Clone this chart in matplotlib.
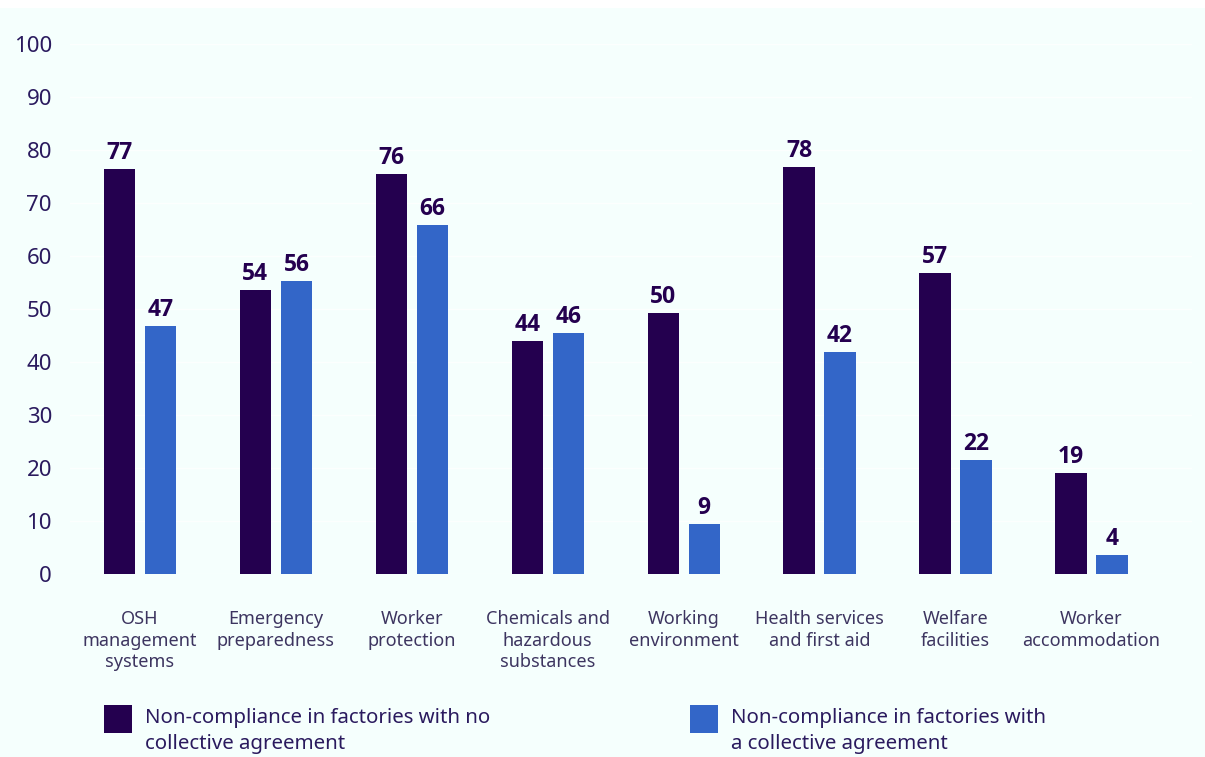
import matplotlib
matplotlib.use("Agg")
import matplotlib.pyplot as plt
from matplotlib.patches import Rectangle
import numpy as np

categories = ["OSH\nmanagement\nsystems", "Emergency\npreparedness", "Worker\nprotection",
              "Chemicals and\nhazardous\nsubstances", "Working\nenvironment",
              "Health services\nand first aid", "Welfare\nfacilities", "Worker\naccommodation"]
# bar heights
no_ca = [76.4, 53.6, 75.5, 44.0, 49.3, 76.8, 56.7, 19.1]
with_ca = [46.7, 55.3, 65.8, 45.5, 9.4, 41.9, 21.5, 3.5]
# value labels as printed on the chart
no_ca_labels = ["77", "54", "76", "44", "50", "78", "57", "19"]
with_ca_labels = ["47", "56", "66", "46", "9", "42", "22", "4"]
series_labels = ["Non-compliance in factories with no\ncollective agreement",
                 "Non-compliance in factories with\na collective agreement"]
yticks = [0, 10, 20, 30, 40, 50, 60, 70, 80, 90, 100]

dark = "#24004f"
blue = "#3366c8"
bg = "#f5fffd"
text_col = "#2a1a5e"
cat_col = "#3d3560"

plt.rcParams['font.family'] = ['Noto Sans', 'DejaVu Sans']

W, H = 1205, 757
fig = plt.figure(figsize=(W/100, H/100), dpi=100)
fig.patch.set_facecolor("white")
fig.add_artist(Rectangle((0, 0), 1, 1 - 8/H, transform=fig.transFigure,
                         facecolor=bg, edgecolor="none", zorder=-10))

left = 70/W
right = 1192/W
bottom = 1 - 574/H
top = 1 - 44/H
ax = fig.add_axes([left, bottom, right-left, top-bottom])
ax.set_facecolor("none")

x = np.arange(len(categories))
bw = 0.23
off = 0.151
ax.bar(x - off, no_ca, bw, color=dark, zorder=3)
ax.bar(x + off, with_ca, bw, color=blue, zorder=3)

lab_font = dict(family=['Open Sans', 'Noto Sans', 'DejaVu Sans'], weight='bold', size=16.5)
for xi, v, t in zip(x - off, no_ca, no_ca_labels):
    ax.annotate(t, (xi, v), xytext=(0, 3), textcoords="offset points",
                ha="center", va="bottom", color=dark, **lab_font)
for xi, v, t in zip(x + off, with_ca, with_ca_labels):
    ax.annotate(t, (xi, v), xytext=(0, 3), textcoords="offset points",
                ha="center", va="bottom", color=dark, **lab_font)

ax.set_ylim(0, 100)
ax.set_xlim(-0.515, 7.74)
ax.set_yticks(yticks)
ax.set_yticklabels([str(t) for t in yticks], fontsize=16, color=text_col)
ax.tick_params(axis="y", length=0, pad=13)
ax.set_xticks(x)
ax.set_xticklabels(categories, fontsize=13, color=cat_col, linespacing=1.25)
ax.tick_params(axis="x", length=0, pad=26)
for s in ax.spines.values():
    s.set_visible(False)
ax.grid(axis="y", color="#fcfffe", linewidth=1, zorder=0)

# legend
for i, (lx, col) in enumerate([(104, dark), (690, blue)]):
    fig.add_artist(Rectangle((lx/W, 1 - 733/H), 28/W, 28/H, transform=fig.transFigure,
                             facecolor=col, edgecolor="none"))
    fig.text((lx + 41)/W, 1 - 708/H, series_labels[i], ha="left", va="top",
             fontsize=14.7, color=text_col, linespacing=1.4)

fig.savefig("out.png", dpi=100, facecolor=fig.get_facecolor())
